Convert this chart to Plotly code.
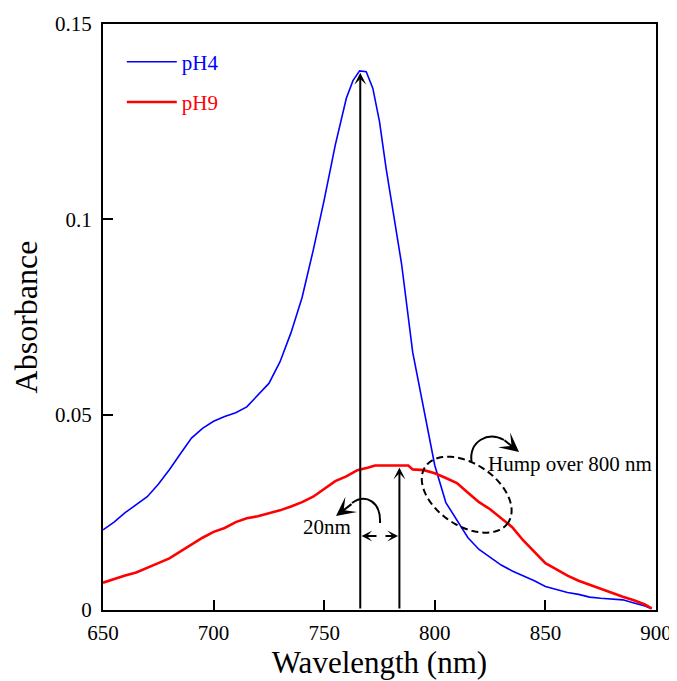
import numpy as np
import plotly.graph_objects as go

# ---------------- data ----------------
wl_ph4 = [650, 655, 660, 665, 670, 675, 680, 685, 690, 695, 700, 705, 710, 715, 720,
          725, 730, 735, 740, 745, 750, 755, 760, 763, 766, 769, 772, 775, 778, 781,
          785, 790, 795, 800, 805, 810, 815, 820, 825, 830, 835, 840, 845, 850, 855,
          860, 865, 870, 875, 880, 885, 890, 895, 898]
abs_ph4 = [0.0205, 0.0225, 0.0249, 0.0270, 0.0290, 0.0322, 0.0359, 0.0400, 0.0440, 0.0465,
           0.0483, 0.0495, 0.0505, 0.0520, 0.0550, 0.0580, 0.0635, 0.0710, 0.0800, 0.0920,
           0.1050, 0.1190, 0.1310, 0.1355, 0.1380, 0.1378, 0.1335, 0.1250, 0.1130, 0.1025,
           0.0885, 0.0660, 0.0510, 0.0370, 0.0275, 0.0230, 0.0185, 0.0155, 0.0135, 0.0115,
           0.0100, 0.0088, 0.0075, 0.0060, 0.0052, 0.0045, 0.0040, 0.0033, 0.0030, 0.0028,
           0.0026, 0.0018, 0.0010, 0.0003]

wl_ph9 = [650, 655, 660, 665, 670, 675, 680, 685, 690, 695, 700, 705, 710, 715, 720,
          725, 730, 735, 740, 745, 750, 755, 760, 765, 770, 773, 788, 790, 795, 800,
          805, 810, 815, 820, 825, 830, 835, 840, 845, 850, 855, 860, 865, 870, 875,
          880, 885, 890, 895, 898]
abs_ph9 = [0.0070, 0.0080, 0.0088, 0.0096, 0.0107, 0.0120, 0.0132, 0.0150, 0.0167, 0.0185,
           0.0200, 0.0210, 0.0225, 0.0235, 0.0240, 0.0248, 0.0255, 0.0265, 0.0276, 0.0290,
           0.0310, 0.0330, 0.0342, 0.0358, 0.0365, 0.0370, 0.0370, 0.0360, 0.0358, 0.0350,
           0.0338, 0.0325, 0.0300, 0.0276, 0.0258, 0.0235, 0.0212, 0.0178, 0.0148, 0.0120,
           0.0104, 0.0088, 0.0075, 0.0064, 0.0053, 0.0044, 0.0034, 0.0025, 0.0014, 0.0004]

series_names = ["pH4", "pH9"]
x_ticks = [650, 700, 750, 800, 850, 900]
y_ticks = [0, 0.05, 0.1, 0.15]
y_ticklabels = ["0", "0.05", "0.1", "0.15"]
peak_ph4_nm = 766.3
peak_ph9_nm = 784.0

# ---------------- layout geometry ----------------
# the page body has an 8px margin, so the figure is made 8px smaller
OFF = 8
W, H = 669, 673
ML, MR, MT, MB = 95, 21, 16, 71
X0, X1 = 650, 900
Y0, Y1 = 0, 0.15
FONT = "Liberation Serif, Times New Roman, serif"


def px2d(px, py):
    """convert window pixel position to data coordinates (for decorations)"""
    x = X0 + (px - OFF - ML) / (W - ML - MR) * (X1 - X0)
    y = Y0 + (H - MB - (py - OFF)) / (H - MT - MB) * (Y1 - Y0)
    return x, y


fig = go.Figure()
fig.add_trace(go.Scatter(x=wl_ph4, y=abs_ph4, mode="lines",
                         name="<span style='color:#0000ff'>%s</span>" % series_names[0],
                         line=dict(color="#0000ff", width=1.6), legendgroup="a"))
fig.add_trace(go.Scatter(x=wl_ph9, y=abs_ph9, mode="lines",
                         name="<span style='color:#ff0000'>%s</span>" % series_names[1],
                         line=dict(color="#ff0000", width=2.6), legendgroup="b"))

annotations = []
shapes = []

# vertical arrows at the two maxima
for xnm, ymax in [(peak_ph4_nm, max(abs_ph4)), (peak_ph9_nm, max(abs_ph9))]:
    annotations.append(dict(x=xnm, y=ymax - 0.0005, ax=xnm, ay=0, xref="x", yref="y",
                            axref="x", ayref="y", text="", showarrow=True,
                            arrowhead=3, arrowsize=1.0, arrowwidth=2, arrowcolor="black"))

# double-headed (broken) arrow between the peaks
ya = px2d(0, 536)[1]
xm1 = px2d(378, 0)[0]
xm2 = px2d(384, 0)[0]
annotations.append(dict(x=peak_ph4_nm + 0.6, y=ya, ax=xm1, ay=ya, xref="x", yref="y",
                        axref="x", ayref="y", text="", showarrow=True,
                        arrowhead=3, arrowsize=0.9, arrowwidth=2, arrowcolor="black"))
annotations.append(dict(x=peak_ph9_nm - 0.6, y=ya, ax=xm2, ay=ya, xref="x", yref="y",
                        axref="x", ayref="y", text="", showarrow=True,
                        arrowhead=3, arrowsize=0.9, arrowwidth=2, arrowcolor="black"))


def bezier_path(pts):
    d = [px2d(*p) for p in pts]
    return "M{},{} C{},{} {},{} {},{}".format(*[v for xy in d for v in xy])


# curved arrow near "20nm"
shapes.append(dict(type="path", xref="x", yref="y",
                   path=bezier_path([(380, 523), (381, 502), (366, 493), (352, 503)]),
                   line=dict(color="black", width=2)))
t1 = px2d(336, 516)
tl1 = px2d(353, 503)
annotations.append(dict(x=t1[0], y=t1[1], ax=tl1[0], ay=tl1[1], xref="x", yref="y",
                        axref="x", ayref="y", text="", showarrow=True,
                        arrowhead=3, arrowsize=1.6, arrowwidth=2, arrowcolor="black"))

# curved arrow near "Hump over 800 nm"
shapes.append(dict(type="path", xref="x", yref="y",
                   path=bezier_path([(471.5, 462), (469, 441), (488, 431), (504, 440)]),
                   line=dict(color="black", width=2)))
t2 = px2d(519, 452)
tl2 = px2d(503, 439)
annotations.append(dict(x=t2[0], y=t2[1], ax=tl2[0], ay=tl2[1], xref="x", yref="y",
                        axref="x", ayref="y", text="", showarrow=True,
                        arrowhead=3, arrowsize=1.6, arrowwidth=2, arrowcolor="black"))

# dashed tilted ellipse
cx, cy, a, b, th = 466.7, 494.7, 50, 31, np.deg2rad(34)
tt = np.linspace(0, 2 * np.pi, 90)
ex = cx + a * np.cos(tt) * np.cos(th) - b * np.sin(tt) * np.sin(th)
ey = cy + a * np.cos(tt) * np.sin(th) + b * np.sin(tt) * np.cos(th)
pts = [px2d(u, v) for u, v in zip(ex, ey)]
path = "M" + " L".join("{:.4f},{:.6f}".format(u, v) for u, v in pts) + " Z"
shapes.append(dict(type="path", xref="x", yref="y", path=path,
                   line=dict(color="black", width=2, dash="7px,4px")))

# text labels
p = px2d(327, 527)
annotations.append(dict(x=p[0], y=p[1], xref="x", yref="y", text="20nm", showarrow=False,
                        font=dict(family=FONT, size=21, color="black")))
p = px2d(570, 464)
annotations.append(dict(x=p[0], y=p[1], xref="x", yref="y", text="Hump over 800 nm",
                        showarrow=False, font=dict(family=FONT, size=21, color="black")))

fig.update_layout(
    width=W, height=H,
    margin=dict(l=ML, r=MR, t=MT, b=MB),
    paper_bgcolor="white", plot_bgcolor="white",
    font=dict(family=FONT, size=21, color="black"),
    showlegend=True,
    legend=dict(x=0.034, y=0.970, xanchor="left", yanchor="top",
                bgcolor="rgba(0,0,0,0)", font=dict(family=FONT, size=21),
                tracegroupgap=10, itemwidth=50),
    annotations=annotations,
    shapes=shapes,
)
fig.update_xaxes(range=[X0, X1], tickvals=x_ticks, ticks="inside", ticklen=10, tickwidth=2,
                 tickcolor="black", showline=True, linewidth=2, linecolor="black",
                 mirror=True, showgrid=False, zeroline=False, automargin=False,
                 tickfont=dict(family=FONT, size=21), ticklabelstandoff=3,
                 title=dict(text="Wavelength (nm)", font=dict(family=FONT, size=31),
                            standoff=7))
fig.update_yaxes(range=[Y0, Y1], tickvals=y_ticks, ticktext=y_ticklabels, ticks="inside",
                 ticklen=10, tickwidth=2, tickcolor="black", showline=True, linewidth=2,
                 linecolor="black", mirror=True, showgrid=False, zeroline=False,
                 automargin=False,
                 tickfont=dict(family=FONT, size=21), ticklabelstandoff=5,
                 title=dict(text="Absorbance", font=dict(family=FONT, size=32), standoff=22))

fig.write_html("out.html")
